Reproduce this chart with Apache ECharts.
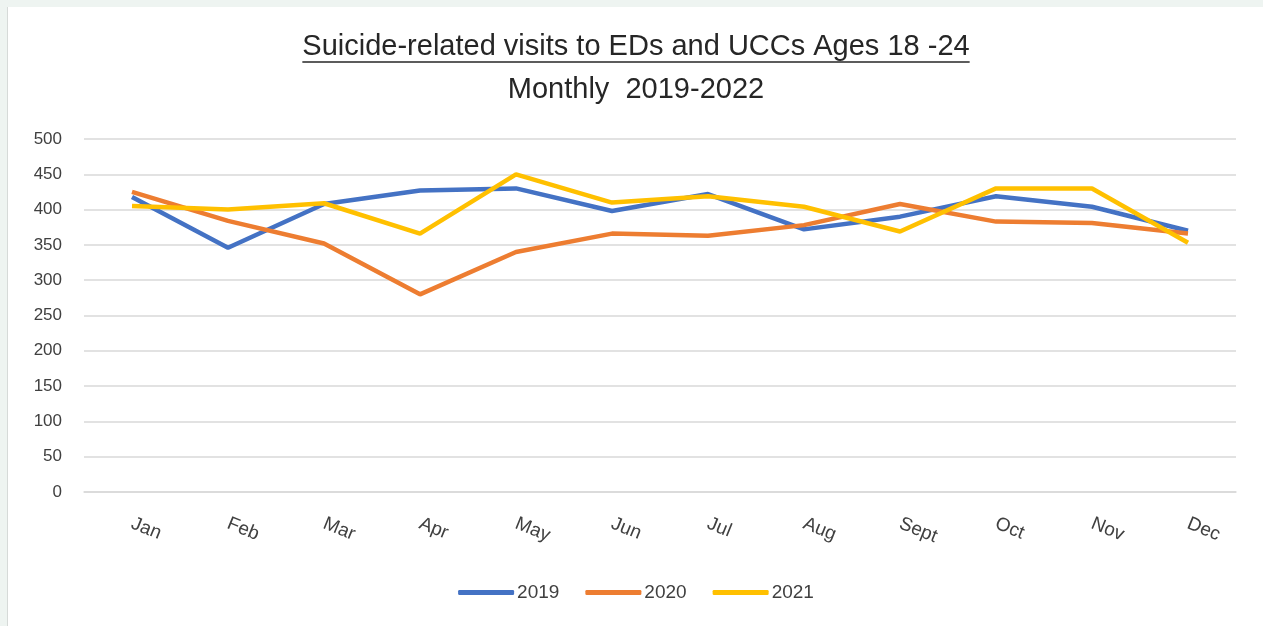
<!DOCTYPE html>
<html>
<head>
<meta charset="utf-8">
<script src="https://cdn.jsdelivr.net/npm/echarts@6/dist/echarts.min.js"></script>
<style>
  html, body { margin: 0; padding: 0; background: #eef4f1; }
  #chart {
    position: absolute; left: 7px; top: 7px;
    width: 1256px; height: 619px;
    background: #fff;
    border-left: 1px solid #d6dad8;
  }
</style>
</head>
<body>
<div id="chart"></div>
<script>
const months = ['Jan', 'Feb', 'Mar', 'Apr', 'May', 'Jun', 'Jul', 'Aug', 'Sept', 'Oct', 'Nov', 'Dec']
const visits2019 = [418, 346, 408, 427, 430, 398, 422, 372, 390, 419, 404, 370]
const visits2020 = [425, 384, 352, 280, 340, 366, 363, 378, 408, 383, 381, 366]
const visits2021 = [405, 400, 409, 366, 450, 410, 419, 404, 369, 430, 430, 353]

const FONT = '"Liberation Sans", sans-serif'
const titleText = 'Suicide-related visits to EDs and UCCs Ages 18 -24'
const titleSize = 29

// width of the title, for the underline
const measure = document.createElement('canvas').getContext('2d')
measure.font = titleSize + 'px ' + FONT
const titleWidth = measure.measureText(titleText).width

const chart = echarts.init(document.getElementById('chart'))

const lineSeries = (name, data, color) => ({
  name,
  type: 'line',
  data,
  symbol: 'none',
  lineStyle: { width: 4.5, color },
  itemStyle: { color }
})

chart.setOption({
  animation: false,
  title: {
    text: titleText,
    subtext: 'Monthly  2019-2022',
    left: 'center',
    top: 20,
    itemGap: 14,
    textStyle: { fontFamily: FONT, fontSize: titleSize, fontWeight: 'normal', color: '#262626' },
    subtextStyle: { fontFamily: FONT, fontSize: titleSize, color: '#262626' }
  },
  graphic: [{
    type: 'line',
    shape: { x1: 628 - titleWidth / 2, y1: 55, x2: 628 + titleWidth / 2, y2: 55 },
    style: { stroke: '#262626', lineWidth: 1.5 }
  }],
  legend: {
    bottom: 19,
    left: 'center',
    icon: 'roundRect',
    itemWidth: 56,
    itemHeight: 5,
    itemGap: 26,
    textStyle: { fontFamily: FONT, fontSize: 19, color: '#404040', padding: [0, 0, 0, -2] },
    data: ['2019', '2020', '2021']
  },
  grid: { left: 76, right: 28, top: 132, bottom: 134 },
  xAxis: {
    type: 'category',
    data: months,
    axisLine: { lineStyle: { color: '#d9d9d9', width: 1.5 } },
    axisTick: { show: false },
    axisLabel: { rotate: -22, margin: 31, fontFamily: FONT, fontSize: 19, color: '#404040' }
  },
  yAxis: {
    type: 'value',
    min: 0,
    max: 500,
    interval: 50,
    axisLine: { show: false },
    axisTick: { show: false },
    axisLabel: { margin: 22, fontFamily: FONT, fontSize: 17, color: '#404040' },
    splitLine: { lineStyle: { color: '#d9d9d9', width: 1.5 } }
  },
  series: [
    lineSeries('2019', visits2019, '#4472c4'),
    lineSeries('2020', visits2020, '#ed7d31'),
    lineSeries('2021', visits2021, '#ffc000')
  ]
})
</script>
</body>
</html>
